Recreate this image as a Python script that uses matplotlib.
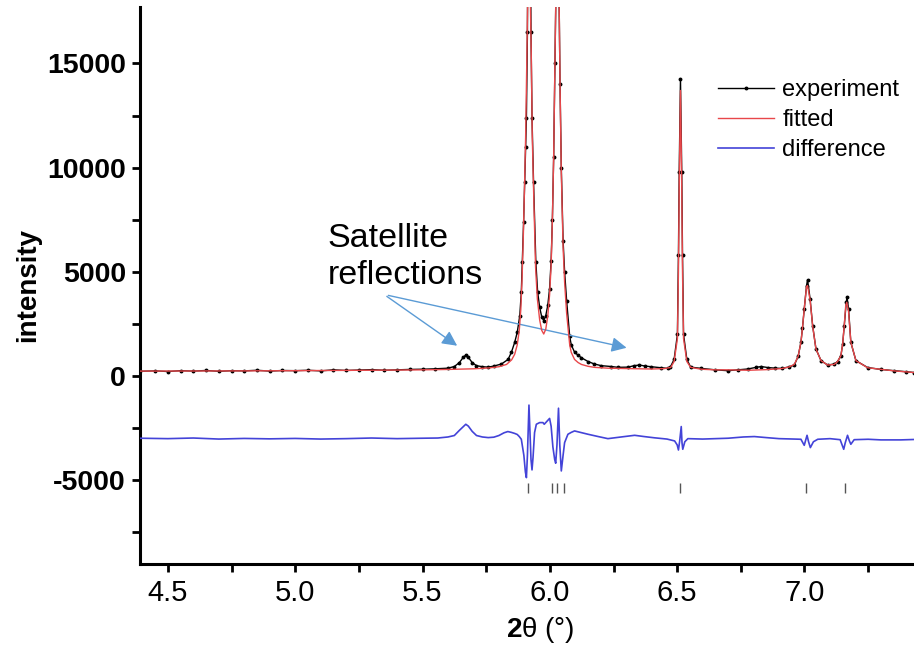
import matplotlib
matplotlib.use("Agg")
import matplotlib.pyplot as plt
import numpy as np

plt.rcParams['font.family'] = ['Liberation Sans', 'DejaVu Sans']
plt.rcParams['mathtext.fontset'] = 'custom'
plt.rcParams['mathtext.rm'] = 'Liberation Sans'
plt.rcParams['mathtext.bf'] = 'Liberation Sans:bold'

# ---------------- data ----------------
exp_x = [4.39, 4.45, 4.50, 4.55, 4.60, 4.65, 4.70, 4.75, 4.80, 4.85, 4.90, 4.95, 5.00, 5.05,
         5.10, 5.15, 5.20, 5.25, 5.30, 5.35, 5.40, 5.45, 5.50, 5.55, 5.60, 5.625, 5.645, 5.66,
         5.670, 5.68, 5.695, 5.712, 5.735, 5.758, 5.78, 5.81, 5.836, 5.849, 5.862, 5.872, 5.882,
         5.888, 5.892, 5.897, 5.901, 5.905, 5.908, 5.912, 5.918, 5.926, 5.930, 5.936, 5.945,
         5.952, 5.960, 5.968, 5.976, 5.984, 5.992, 5.999, 6.005, 6.010, 6.015, 6.020, 6.024,
         6.030, 6.036, 6.040, 6.045, 6.052, 6.058, 6.066, 6.078, 6.084, 6.097, 6.111, 6.124,
         6.150, 6.175, 6.202, 6.241, 6.267, 6.307, 6.331, 6.352, 6.375, 6.398, 6.437, 6.464,
         6.473, 6.488, 6.501, 6.505, 6.508, 6.513, 6.518, 6.521, 6.525, 6.538, 6.553, 6.594,
         6.650, 6.699, 6.740, 6.777, 6.810, 6.830, 6.856, 6.885, 6.910, 6.940, 6.960, 6.975,
         6.986, 6.992, 6.999, 7.008, 7.012, 7.022, 7.032, 7.045, 7.065, 7.091, 7.117, 7.130,
         7.143, 7.150, 7.156, 7.164, 7.167, 7.173, 7.182, 7.202, 7.248, 7.300, 7.352, 7.400, 7.431]
exp_y = [230, 250, 220, 260, 240, 270, 230, 260, 250, 280, 240, 270, 260, 280,
         250, 300, 270, 290, 310, 280, 300, 320, 330, 350, 380, 460, 650, 900,
         1010, 900, 650, 500, 450, 430, 480, 580, 800, 1140, 1620, 2100, 2900,
         4040, 5480, 7400, 9300, 11000, 12400, 16500, 32000, 16500, 12400, 9300, 5480,
         4040, 3300, 2850, 2660, 2900, 3400, 4200, 5500, 7500, 10500, 15000, 18500,
         35000, 18500, 14000, 10000, 6500, 5000, 3600, 1900, 1500, 1150, 1000, 880,
         700, 580, 500, 460, 420, 430, 500, 530, 480, 450, 400, 370,
         430, 800, 2000, 5800, 9800, 14250, 9800, 5800, 2000, 800, 430, 370,
         300, 260, 300, 340, 420, 460, 410, 380, 370, 440, 530, 950,
         1620, 2300, 3220, 4340, 4620, 3700, 2420, 1300, 740, 530, 580, 700,
         980, 1550, 2420, 3540, 3780, 3220, 1620, 740, 410, 320, 260, 210, 170]

fit_x = [4.39, 4.60, 4.80, 5.00, 5.20, 5.40, 5.50, 5.60, 5.70, 5.76, 5.80, 5.83, 5.85, 5.862,
         5.872, 5.880, 5.886, 5.891, 5.896, 5.901, 5.905, 5.910, 5.914, 5.918, 5.922, 5.927,
         5.931, 5.936, 5.944, 5.951, 5.960, 5.968, 5.976, 5.984, 5.992, 5.999, 6.005, 6.010,
         6.015, 6.020, 6.024, 6.030, 6.036, 6.040, 6.045, 6.052, 6.058, 6.066, 6.078, 6.084,
         6.097, 6.111, 6.124, 6.150, 6.175, 6.228, 6.307, 6.400, 6.450, 6.475, 6.488, 6.501,
         6.505, 6.508, 6.513, 6.518, 6.521, 6.525, 6.538, 6.553, 6.594, 6.650, 6.699, 6.780,
         6.850, 6.910, 6.940, 6.960, 6.975, 6.986, 6.992, 6.999, 7.008, 7.012, 7.022, 7.032,
         7.045, 7.065, 7.091, 7.117, 7.130, 7.143, 7.150, 7.156, 7.162, 7.166, 7.173, 7.182,
         7.202, 7.248, 7.352, 7.431]
fit_y = [240, 245, 250, 260, 275, 290, 300, 320, 350, 390, 450, 560, 780, 1050,
         1500, 2200, 3200, 4700, 6800, 9300, 11500, 15500, 19000, 34000, 19000, 15500,
         11500, 9000, 5200, 3700, 2700, 2200, 2020, 2250, 2900, 3900, 5300, 7500,
         10500, 15000, 18500, 36000, 18500, 14000, 9800, 6200, 4500, 3000, 1500, 1140,
         800, 650, 560, 470, 420, 380, 360, 340, 360, 420, 700, 1800,
         5000, 9000, 13700, 9000, 5000, 1800, 700, 420, 330, 300, 300, 280,
         310, 360, 440, 560, 950, 1620, 2300, 3220, 4300, 4340, 3650, 2400,
         1300, 740, 530, 560, 700, 980, 1550, 2420, 3400, 3540, 3100, 1620,
         740, 400, 250, 170]

diff_x = [4.39, 4.50, 4.60, 4.70, 4.80, 4.90, 5.00, 5.10, 5.20, 5.30, 5.40, 5.50, 5.56, 5.60,
          5.625, 5.645, 5.670, 5.68, 5.695, 5.712, 5.735, 5.758, 5.78, 5.80, 5.82, 5.835,
          5.849, 5.862, 5.872, 5.880, 5.888, 5.898, 5.904, 5.908, 5.912, 5.918, 5.922, 5.926,
          5.930, 5.934, 5.940, 5.947, 5.960, 5.973, 5.978, 5.990, 5.999, 6.005, 6.012, 6.019,
          6.023, 6.028, 6.034, 6.039, 6.045, 6.052, 6.058, 6.071, 6.084, 6.097, 6.120, 6.150,
          6.190, 6.228, 6.280, 6.333, 6.370, 6.411, 6.460, 6.490, 6.500, 6.505, 6.510, 6.516,
          6.519, 6.522, 6.530, 6.542, 6.600, 6.700, 6.760, 6.803, 6.850, 6.900, 6.960, 6.986,
          6.999, 7.004, 7.010, 7.016, 7.023, 7.035, 7.052, 7.100, 7.140, 7.154, 7.160, 7.169,
          7.176, 7.182, 7.195, 7.250, 7.300, 7.378, 7.431]
diff_y = [20, 0, 30, -20, 10, -10, 10, -20, 0, 30, 0, 20, 30, 80,
          150, 400, 690, 600, 350, 150, 80, 50, 70, 150, 280, 340,
          300, 250, 200, 100, -30, -800, -1600, -1870, -800, 1610, 300, -1000,
          -1500, -900, 290, 690, 770, 770, 690, 850, 970, 600, -400, -1000,
          -1180, -300, 1460, -300, -1550, -800, -190, 210, 300, 370, 300, 210,
          100, 0, 80, 160, 100, 40, -20, -110, -300, -545, -100, 580,
          -200, -510, -150, 0, -20, 20, 80, 100, 50, 0, -20, -30,
          -320, -100, 160, -150, -430, -150, -30, 0, -50, -510, -200, 160,
          -100, -270, -50, -30, -60, -60, -40]
diff_offset = -3000

refl_pos = [5.915, 6.009, 6.027, 6.054, 6.511, 7.007, 7.161]
refl_y = (-5150, -5600)

legend_labels = ["experiment", "fitted", "difference"]
annot_lines = ["Satellite", "reflections"]

# ---------------- figure ----------------
fig = plt.figure(figsize=(9.14, 6.45), dpi=100)
ax = fig.add_axes([0.153, 0.126, 0.847, 0.863])

ax.plot(exp_x, exp_y, color='black', lw=1.0, marker='o', ms=1.8, label=legend_labels[0], zorder=3)
ax.plot(fit_x, fit_y, color='#e8474a', lw=1.0, label=legend_labels[1], zorder=4)
ax.plot(diff_x, np.array(diff_y) + diff_offset, color='#4343d8', lw=1.2, label=legend_labels[2], zorder=3)
ax.vlines(refl_pos, refl_y[0], refl_y[1], color='#555555', lw=1.0)

ax.set_xlim(4.39, 7.43)
ax.set_ylim(-9000, 17700)
ax.set_xticks([4.5, 5.0, 5.5, 6.0, 6.5, 7.0])
ax.set_xticks([4.75, 5.25, 5.75, 6.25, 6.75, 7.25], minor=True)
ax.set_yticks([-5000, 0, 5000, 10000, 15000])
ax.set_yticks([-7500, -2500, 2500, 7500, 12500], minor=True)
ax.set_xticklabels(['4.5', '5.0', '5.5', '6.0', '6.5', '7.0'], fontsize=21)
ax.set_yticklabels(['-5000', '0', '5000', '10000', '15000'], fontsize=20.5, fontweight='bold')

for s in ['top', 'right']:
    ax.spines[s].set_visible(False)
for s in ['left', 'bottom']:
    ax.spines[s].set_linewidth(2.2)
ax.tick_params(which='both', direction='out', length=6, width=2.0)
ax.tick_params(axis='y', pad=4)
ax.tick_params(axis='x', pad=5)

ax.set_ylabel('intensity', fontsize=20, fontweight='bold', labelpad=4)
ax.set_xlabel(r'$\mathbf{2}$θ (°)', fontsize=20)
ax.xaxis.set_label_coords(0.517, -0.092)

# annotation
ax.text(5.127, 6200, annot_lines[0], fontsize=24.5, va='baseline', ha='left')
ax.text(5.127, 4420, annot_lines[1], fontsize=24.5, va='baseline', ha='left')
arrow_col = '#5b9bd5'
ax.annotate('', xy=(5.645, 1380), xytext=(5.351, 3900),
            arrowprops=dict(arrowstyle='-|>,head_length=0.9,head_width=0.45', color=arrow_col, lw=1.0))
ax.annotate('', xy=(6.312, 1330), xytext=(5.355, 3900),
            arrowprops=dict(arrowstyle='-|>,head_length=0.9,head_width=0.45', color=arrow_col, lw=1.0))

leg = ax.legend(loc='upper left', bbox_to_anchor=(0.767, 0.903), bbox_transform=fig.transFigure,
                frameon=False, fontsize=17, handlelength=2.4, handletextpad=0.35,
                labelspacing=0.34, borderpad=0.2)

fig.savefig('out.png', dpi=100)
